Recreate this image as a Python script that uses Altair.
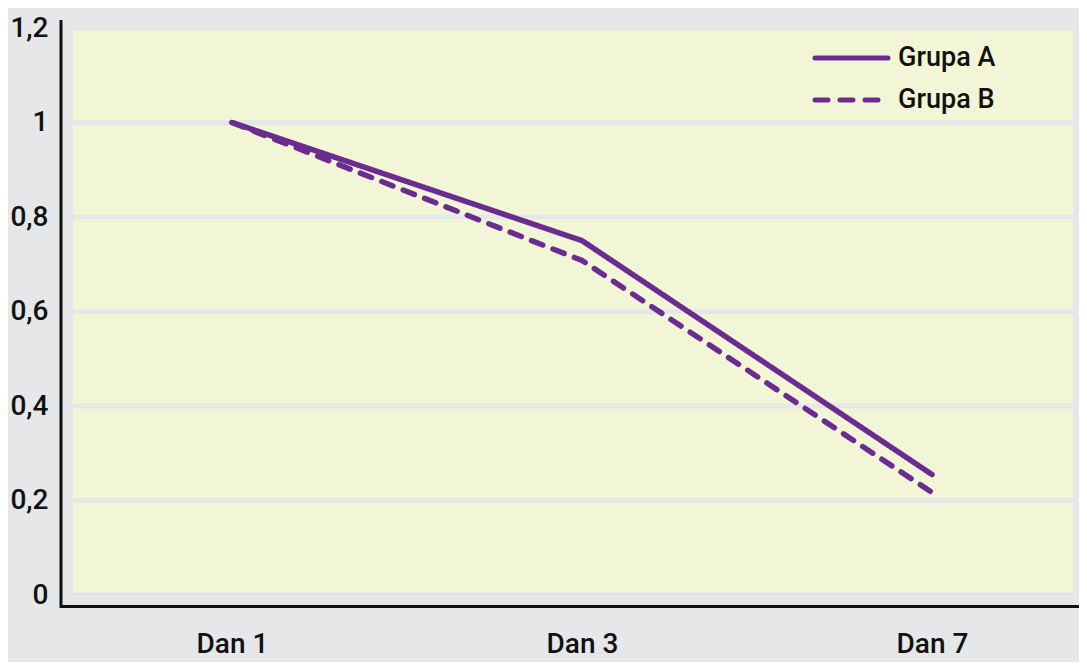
import altair as alt
import pandas as pd

days = ["Dan 1", "Dan 3", "Dan 7"]
grupa_a = [1.0, 0.75, 0.255]
grupa_b = [1.0, 0.708, 0.217]
groups = ["Grupa A", "Grupa B"]
y_ticks = [0, 0.2, 0.4, 0.6, 0.8, 1.0, 1.2]

rows = []
for d, a, b in zip(days, grupa_a, grupa_b):
    rows.append({"dan": d, "grupa": groups[0], "v": a})
    rows.append({"dan": d, "grupa": groups[1], "v": b})
df = pd.DataFrame(rows)

FONT = "Roboto, Liberation Sans, sans-serif"
PURPLE = "#6a2c91"
BG = "#e6e7e8"
PLOT = "#f3f6d6"
TXT = "#111111"

W, H = 1000, 567

grid = alt.Chart(pd.DataFrame({"t": y_ticks})).mark_rule(color=BG, strokeWidth=5).encode(
    y=alt.Y("t:Q", scale=alt.Scale(domain=[0, 1.2], nice=False)),
    x=alt.value(0), x2=alt.value(W),
)

lines = alt.Chart(df).mark_line(strokeWidth=5.5, strokeCap="round", color=PURPLE).encode(
    x=alt.X("dan:N", sort=days, scale=alt.Scale(type="point", range=[159, 859], padding=0),
            axis=alt.Axis(title=None, domain=False, ticks=False, grid=False, labelFontSize=28,
                          labelFontWeight=500, labelFont=FONT, labelColor=TXT, labelPadding=35,
                          labelAngle=0)),
    y=alt.Y("v:Q", scale=alt.Scale(domain=[0, 1.2], nice=False),
            axis=alt.Axis(title=None, values=y_ticks, domain=False, ticks=False, grid=False,
                          labelFontSize=28, labelFontWeight=500, labelFont=FONT, labelColor=TXT,
                          labelPadding=25,
                          labelExpr="replace(format(datum.value, '.1~f'), '.', ',')")),
    strokeDash=alt.StrokeDash("grupa:N", sort=groups,
                              scale=alt.Scale(domain=groups, range=[[1, 0], [12, 11]]),
                              legend=None),
)

one = pd.DataFrame({"k": [0]})
yline = alt.Chart(one).mark_rule(color=TXT, strokeWidth=3).encode(
    x=alt.value(-12), y=alt.value(-8), y2=alt.value(H + 13)
)
xline = alt.Chart(one).mark_rule(color=TXT, strokeWidth=3).encode(
    x=alt.value(-13), x2=alt.value(W + 10), y=alt.value(H + 11.5)
)

# manual legend
leg_a_line = alt.Chart(one).mark_rule(color=PURPLE, strokeWidth=5, strokeCap="round").encode(
    x=alt.value(742), x2=alt.value(815), y=alt.value(30)
)
leg_b_line = alt.Chart(one).mark_rule(color=PURPLE, strokeWidth=5, strokeCap="round",
                                      strokeDash=[13, 12]).encode(
    x=alt.value(742), x2=alt.value(817), y=alt.value(72)
)
leg_a_txt = alt.Chart(pd.DataFrame({"g": [groups[0]]})).mark_text(
    align="left", baseline="middle", font=FONT, fontSize=27, fontWeight=500, color=TXT
).encode(text="g:N", x=alt.value(825), y=alt.value(30))
leg_b_txt = alt.Chart(pd.DataFrame({"g": [groups[1]]})).mark_text(
    align="left", baseline="middle", font=FONT, fontSize=27, fontWeight=500, color=TXT
).encode(text="g:N", x=alt.value(825), y=alt.value(72))

chart = alt.layer(grid, lines, yline, xline, leg_a_line, leg_b_line, leg_a_txt, leg_b_txt).properties(
    width=W, height=H,
    background=BG,
    padding={"left": 65, "top": 20, "right": 6, "bottom": 67},
    autosize=alt.AutoSizeParams(type="none"),
).configure_view(fill=PLOT, stroke=None)

chart.save("out.html", embed_options={"renderer": "svg", "actions": False})
